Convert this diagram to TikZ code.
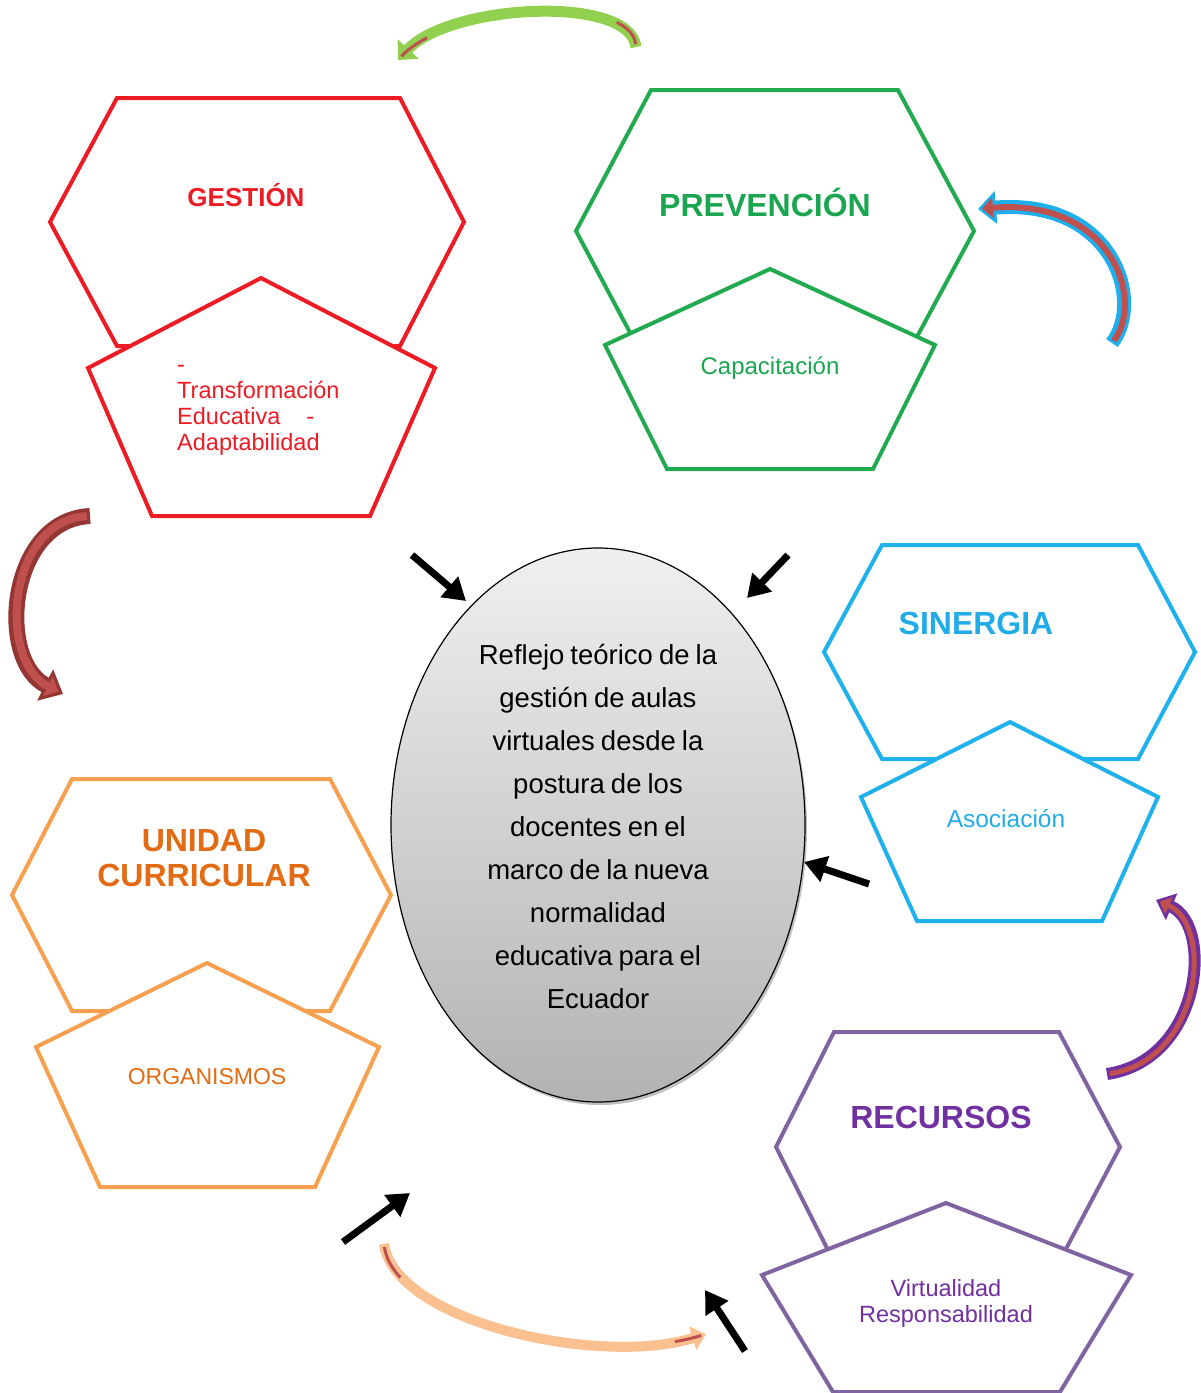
\documentclass[tikz,border=0pt]{standalone}
\usepackage{fontspec}
\setmainfont{Liberation Sans}
\usetikzlibrary{arrows.meta,shapes.geometric}
\definecolor{cred}{RGB}{237,28,36}
\definecolor{cgreen}{RGB}{33,170,79}
\definecolor{cgreentx}{RGB}{27,165,80}
\definecolor{cblue}{RGB}{31,177,235}
\definecolor{cbluetx}{RGB}{33,172,232}
\definecolor{corange}{RGB}{246,160,80}
\definecolor{corangetx}{RGB}{226,107,20}
\definecolor{cpurple}{RGB}{128,100,162}
\definecolor{cpurpletx}{RGB}{112,48,160}
\definecolor{alime}{RGB}{146,208,80}
\definecolor{ablue}{RGB}{30,174,236}
\definecolor{abrown}{RGB}{148,54,52}
\definecolor{ainner}{RGB}{192,80,77}
\definecolor{apurple}{RGB}{112,48,160}
\definecolor{apeach}{RGB}{250,192,144}
\newcommand\mytightspace{\spaceskip=0.22em\relax}
\begin{document}
\begin{tikzpicture}[x=1pt,y=-1pt,
  shapeline/.style={line width=4pt},
  pentline/.style={line width=4pt,fill=white},
  title/.style={font=\fontsize{32}{35}\selectfont\bfseries,align=center,inner sep=0},
  sub/.style={font=\fontsize{23.5}{26}\selectfont,align=center,inner sep=0},
  blackarrow/.style={line width=7pt,-{Triangle[width=26pt,length=22pt]}},
]
\useasboundingbox (0,0) rectangle (1201,1393);
\clip (0,0) rectangle (1201,1393);

% GESTION
\draw[shapeline,draw=cred] (117,98) -- (400,98) -- (464,222) -- (400,346) -- (117,346) -- (50,222) -- cycle;
\draw[pentline,draw=cred] (261,278) -- (435,368) -- (370,516) -- (152,516) -- (88,368) -- cycle;
\node[title,text=cred,font=\fontsize{26}{30}\selectfont\bfseries] (gest) at (246,195) {GESTIÓN};
\node[font=\fontsize{23.5}{26}\selectfont,text=cred,inner sep=0,anchor=base west] (g1) at (177,372) {-};
\node[font=\fontsize{23.5}{26}\selectfont,text=cred,inner sep=0,anchor=base west] (g2) at (177,398) {Transformación};
\node[font=\fontsize{23.5}{26}\selectfont,text=cred,inner sep=0,anchor=base west] (g3) at (177,424) {Educativa\hspace{26pt}-};
\node[font=\fontsize{23.5}{26}\selectfont,text=cred,inner sep=0,anchor=base west] (g4) at (177,450) {Adaptabilidad};

% PREVENCION
\draw[shapeline,draw=cgreen] (651,90) -- (898,90) -- (974,231) -- (898,372) -- (651,372) -- (576,231) -- cycle;
\draw[pentline,draw=cgreen] (770,269) -- (935,345) -- (873,469) -- (667,469) -- (605,345) -- cycle;
\node[title,text=cgreentx] (prev) at (765,202) {PREVENCIÓN};
\node[sub,text=cgreentx,font=\fontsize{24}{26}\selectfont] (capa) at (770,368) {Capacitación};

% SINERGIA
\draw[shapeline,draw=cblue] (882,545) -- (1138,545) -- (1195,652) -- (1138,759) -- (882,759) -- (824,652) -- cycle;
\draw[pentline,draw=cblue] (1010,722) -- (1158,797) -- (1102,921) -- (917,921) -- (861,797) -- cycle;
\node[title,text=cbluetx] (sin) at (976,623) {SINERGIA};
\node[sub,text=cbluetx,font=\fontsize{24.5}{26}\selectfont] (asoc) at (1006,819) {Asociación};

% UNIDAD CURRICULAR
\draw[shapeline,draw=corange] (72,779) -- (330,779) -- (391,895) -- (330,1011) -- (72,1011) -- (12,895) -- cycle;
\draw[pentline,draw=corange] (207,963) -- (379,1047) -- (315,1187) -- (100,1187) -- (36,1047) -- cycle;
\node[title,text=corangetx] (unid) at (204,858) {UNIDAD\\CURRICULAR};
\node[sub,text=corangetx,font=\fontsize{23}{26}\selectfont] (org) at (207,1077) {ORGANISMOS};

% RECURSOS
\draw[shapeline,draw=cpurple] (834,1032) -- (1059,1032) -- (1120,1147) -- (1059,1262) -- (834,1262) -- (776,1147) -- cycle;
\draw[pentline,draw=cpurple] (946,1203) -- (1131,1275) -- (1060,1392) -- (833,1392) -- (762,1275) -- cycle;
\node[title,text=cpurpletx] (rec) at (941,1117) {RECURSOS};
\node[sub,text=cpurpletx] (virt) at (946,1303) {Virtualidad\\Responsabilidad};

% central ellipse
\fill[black,opacity=0.25] (600,828) ellipse [x radius=207, y radius=277];
\shade[top color=black!6,bottom color=black!30,draw=black,line width=1.2pt] (598,825) ellipse [x radius=207, y radius=277];
\coordinate (centre) at (598,825);
\node[font=\fontsize{27.5}{43}\selectfont\mytightspace,align=center,inner sep=0] (ctext) at (598,826)
 {Reflejo teórico de la\\gestión de aulas\\virtuales desde la\\postura de los\\docentes en el\\marco de la nueva\\normalidad\\educativa para el\\Ecuador};

% black arrows
\coordinate (a1s) at (412,555); \coordinate (a1e) at (466,601);
\coordinate (a2s) at (788,555); \coordinate (a2e) at (747,598);
\coordinate (a3s) at (869,884); \coordinate (a3e) at (804,862);
\coordinate (a4s) at (343,1242); \coordinate (a4e) at (410,1193);
\coordinate (a5s) at (745,1351); \coordinate (a5e) at (705,1290);
\draw[blackarrow] (a1s) -- (a1e);
\draw[blackarrow] (a2s) -- (a2e);
\draw[blackarrow] (a3s) -- (a3e);
\draw[blackarrow] (a4s) -- (a4e);
\draw[blackarrow] (a5s) -- (a5e);

% curved arrows
% green (top)
\coordinate (gs) at (636,47); \coordinate (ge) at (398,60);
\draw[alime,line width=11pt,-{Triangle[width=28pt,length=15pt]}] (gs) .. controls (630,-6) and (450,4) .. (ge);
\draw[ainner,line width=3pt,shorten >=5pt,shorten <=3pt,dash pattern=on 30pt off 195pt on 300pt] (gs) .. controls (630,-6) and (450,4) .. (ge);
% blue (right top)
\coordinate (bs) at (1112,343); \coordinate (be) at (978,209);
\draw[ablue,line width=14pt,-{Triangle[width=32pt,length=18pt]}] (bs) .. controls (1145,300) and (1112,198) .. (be);
\draw[ainner,line width=6pt,shorten >=4pt,shorten <=3pt,-{Triangle[width=20pt,length=11pt]}] (bs) .. controls (1145,300) and (1112,198) .. (be);
% brown (left)
\coordinate (rs) at (90,516); \coordinate (re) at (63,694);
\draw[abrown,line width=16pt,-{Triangle[width=34pt,length=20pt]}] (rs) .. controls (8,520) and (-4,660) .. (re);
\draw[ainner,line width=8pt,shorten >=5pt,shorten <=3pt,-{Triangle[width=21pt,length=12pt]}] (rs) .. controls (8,520) and (-4,660) .. (re);
% purple (right bottom)
\coordinate (ps) at (1107,1074); \coordinate (pe) at (1156,900);
\draw[apurple,line width=12pt,-{Triangle[width=28pt,length=17pt]}] (ps) .. controls (1202,1060) and (1214,925) .. (pe);
\draw[ainner,line width=5pt,shorten >=4pt,shorten <=3pt,-{Triangle[width=17pt,length=10pt]}] (ps) .. controls (1202,1060) and (1214,925) .. (pe);
% peach (bottom)
\coordinate (ks) at (384,1244); \coordinate (ke) at (706,1334);
\draw[apeach,line width=10pt,-{Triangle[width=24pt,length=14pt]}] (ks) .. controls (395,1322) and (600,1367) .. (ke);
\draw[ainner,line width=3pt,shorten >=5pt,shorten <=3pt,dash pattern=on 35pt off 290pt on 300pt] (ks) .. controls (395,1322) and (600,1367) .. (ke);
\end{tikzpicture}
\end{document}
